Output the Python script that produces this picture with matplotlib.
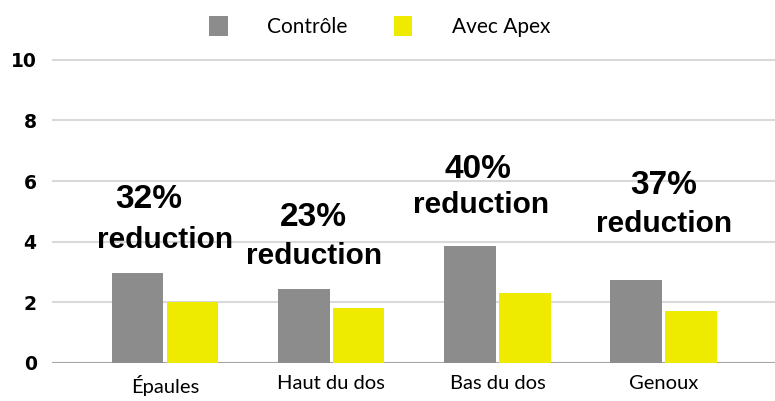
""" Reduction des douleurs : Controle vs Avec Apex """

import matplotlib.pyplot as plt
import numpy as np

categories = ['Épaules', 'Haut du dos', 'Bas du dos', 'Genoux']
controle = [2.95, 2.45, 3.87, 2.75]
avec_apex = [2.0, 1.82, 2.3, 1.7]
reductions = ['32%', '23%', '40%', '37%']

# annotation placement (layout only)
pct_pos = [(-0.10, 5.38), (-0.11, 4.79), (-0.12, 6.37), (0.0, 5.84)]
red_pos = [(0.0, 4.06), (-0.10, 3.53), (-0.10, 5.21), (0.0, 4.59)]

GRAY = '#8c8c8c'
YELLOW = '#eeea00'


def main():
    fig = plt.figure(figsize=(7.75, 4.01), dpi=100)
    ax = fig.add_axes([0.067, 0.095, 0.933, 0.771])

    x = np.arange(len(categories))
    w = 0.31
    b1 = ax.bar(x - w / 2 - 0.01, controle, w, color=GRAY, label='Contrôle', zorder=3)
    b2 = ax.bar(x + w / 2 + 0.01, avec_apex, w, color=YELLOW, label='Avec Apex', zorder=3)

    for i, (pct, (dx1, y1), (dx2, y2)) in enumerate(zip(reductions, pct_pos, red_pos)):
        ax.text(i + dx1, y1, pct, ha='center', va='center', fontsize=24,
                fontweight='bold', family='Liberation Sans', zorder=4)
        ax.text(i + dx2, y2, 'reduction', ha='center', va='center', fontsize=21.5,
                fontweight='bold', family='Liberation Sans', zorder=4)

    ax.set_xlim(-0.68, 3.67)
    ax.set_ylim(0, 10.2)
    ax.set_yticks([0, 2, 4, 6, 8, 10])
    ax.grid(axis='y', color='#d9d9d9', linewidth=1.5, zorder=0)
    ax.axhline(0, color='#a6a6a6', linewidth=1.5, zorder=2)
    for s in ax.spines.values():
        s.set_visible(False)
    ax.tick_params(axis='both', length=0)
    ax.tick_params(axis='y', pad=11)
    ax.tick_params(axis='x', pad=9)
    ax.set_xticks(x)
    ax.set_xticklabels(categories, fontsize=14.5, family='Lato')
    for lab in ax.get_yticklabels():
        lab.set_fontweight('bold')
        lab.set_fontsize(13.5)
        lab.set_family('DejaVu Sans')

    fig.legend(handles=[b1, b2], loc='center', bbox_to_anchor=(0.49, 0.935), ncol=2,
               frameon=False, prop={'family': 'Lato', 'size': 15},
               handlelength=0.9, handleheight=1.1, handletextpad=1.9, columnspacing=2.2)

    fig.savefig('out.png', dpi=100)


if __name__ == '__main__':
    main()
